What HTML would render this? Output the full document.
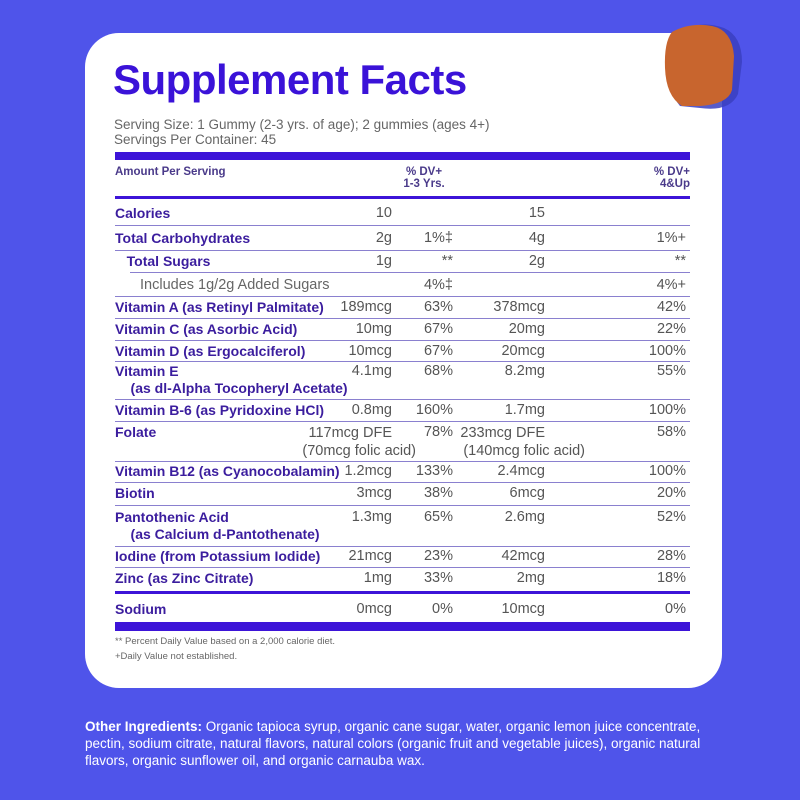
<!DOCTYPE html>
<html><head><style>
body{margin:0;width:800px;height:800px;background:#4f54ea;position:relative;overflow:hidden;font-family:"Liberation Sans",Arial,sans-serif}
.card{position:absolute;left:85px;top:33px;width:637px;height:655px;background:#fff;border-radius:34px}
.t{position:absolute;white-space:nowrap}
.l{left:115px;font-weight:bold;color:#3b1d9e;font-size:14px}
.v{color:#555;font-size:14.5px;text-align:right}
.hr{position:absolute;left:115px;width:575px;height:1px;background:#8a80cf}
.bar{position:absolute;left:115px;width:575px;background:#3d14d8}
</style></head><body>
<div class="card"></div>
<svg style="position:absolute;left:660px;top:20px" width="85" height="95" viewBox="0 0 85 95">
<path d="M24 10 Q42 0 64 8 Q82 16 82 42 L78 74 Q70 92 40 88 L20 86 Q8 72 10 42 Z" fill="#3a3fc0" opacity="0.85"/>
<path d="M12 12 Q30 2 52 6 Q72 10 74 36 L72 70 Q68 84 40 86 L22 86 Q6 76 5 48 Q4 22 12 12 Z" fill="#c8652e"/>
</svg>
<div class="t" style="left:113px;top:56px;font-size:42px;font-weight:bold;color:#3a12d8;letter-spacing:-0.5px">Supplement Facts</div>
<div class="t" style="left:114px;top:117px;font-size:13.5px;color:#666">Serving Size: 1 Gummy (2-3 yrs. of age); 2 gummies (ages 4+)</div>
<div class="t" style="left:114px;top:132px;font-size:13.5px;color:#666">Servings Per Container: 45</div>
<div class="bar" style="top:152px;height:8px"></div>
<div class="t" style="left:115px;top:166px;font-size:11.5px;font-weight:bold;color:#4a3a8a">Amount Per Serving</div>
<div class="t" style="left:395px;width:58px;top:166px;font-size:11.5px;font-weight:bold;color:#4a3a8a;text-align:center">% DV+<br>1-3 Yrs.</div>
<div class="t" style="left:600px;width:90px;top:166px;font-size:11.5px;font-weight:bold;color:#4a3a8a;text-align:right">% DV+<br>4&amp;Up</div>
<div class="bar" style="top:196px;height:3px"></div>

<div id="rows"></div>
<script>
const R=[
["Calories",205,"10","","15","",225],
["Total Carbohydrates",230,"2g","1%‡","4g","1%+",250],
["&nbsp;&nbsp;&nbsp;Total Sugars",253,"1g","**","2g","**",272,130],
["",277,"","4%‡","","4%+",296],
["Vitamin A (as Retinyl Palmitate)",299,"189mcg","63%","378mcg","42%",318],
["Vitamin C (as Asorbic Acid)",321,"10mg","67%","20mg","22%",340],
["Vitamin D (as Ergocalciferol)",343,"10mcg","67%","20mcg","100%",361],
["Vitamin E<br>&nbsp;&nbsp;&nbsp;&nbsp;(as dl-Alpha Tocopheryl Acetate)",363,"4.1mg","68%","8.2mg","55%",399],
["Vitamin B-6 (as Pyridoxine HCl)",402,"0.8mg","160%","1.7mg","100%",421],
["Folate",424,"","78%","","58%",461],
["Vitamin B12 (as Cyanocobalamin)",463,"1.2mcg","133%","2.4mcg","100%",482],
["Biotin",485,"3mcg","38%","6mcg","20%",505],
["Pantothenic Acid<br>&nbsp;&nbsp;&nbsp;&nbsp;(as Calcium d-Pantothenate)",509,"1.3mg","65%","2.6mg","52%",546],
["Iodine (from Potassium Iodide)",548,"21mcg","23%","42mcg","28%",567],
["Zinc (as Zinc Citrate)",570,"1mg","33%","2mg","18%",null],
["Sodium",601,"0mcg","0%","10mcg","0%",null]];
let h="";
for(const r of R){
 h+=`<div class="t l" style="top:${r[1]}px;line-height:17px">${r[0]}</div>`;
 h+=`<div class="t v" style="left:300px;width:92px;top:${r[1]}px">${r[2]}</div>`;
 h+=`<div class="t v" style="left:395px;width:58px;top:${r[1]}px">${r[3]}</div>`;
 h+=`<div class="t v" style="left:450px;width:95px;top:${r[1]}px">${r[4]}</div>`;
 h+=`<div class="t v" style="left:600px;width:86px;top:${r[1]}px">${r[5]}</div>`;
 if(r[6])h+=`<div class="hr" style="top:${r[6]}px;${r[7]?'left:'+r[7]+'px;width:'+(690-r[7])+'px':''}"></div>`;
}
document.getElementById('rows').innerHTML=h;
</script>
<div class="t v" style="left:140px;top:277px;text-align:left;color:#666">Includes 1g/2g Added Sugars</div>
<div class="t v" style="left:300px;width:92px;top:424px;line-height:18px">117mcg DFE<br><span style="margin-right:-24px">(70mcg folic acid)</span></div>
<div class="t v" style="left:450px;width:95px;top:424px;line-height:18px">233mcg DFE<br><span style="margin-right:-40px">(140mcg folic acid)</span></div>
<div class="bar" style="top:591px;height:3px"></div>
<div class="bar" style="top:622px;height:9px"></div>
<div class="t" style="left:115px;top:636px;font-size:9.5px;color:#666">** Percent Daily Value based on a 2,000 calorie diet.</div>
<div class="t" style="left:115px;top:651px;font-size:9.5px;color:#666">+Daily Value not established.</div>
<div class="t" style="left:85px;top:718px;font-size:13.5px;color:#fff;line-height:17px"><b>Other Ingredients:</b> Organic tapioca syrup, organic cane sugar, water, organic lemon juice concentrate,<br>pectin, sodium citrate, natural flavors, natural colors (organic fruit and vegetable juices), organic natural<br>flavors, organic sunflower oil, and organic carnauba wax.</div>
</body></html>
